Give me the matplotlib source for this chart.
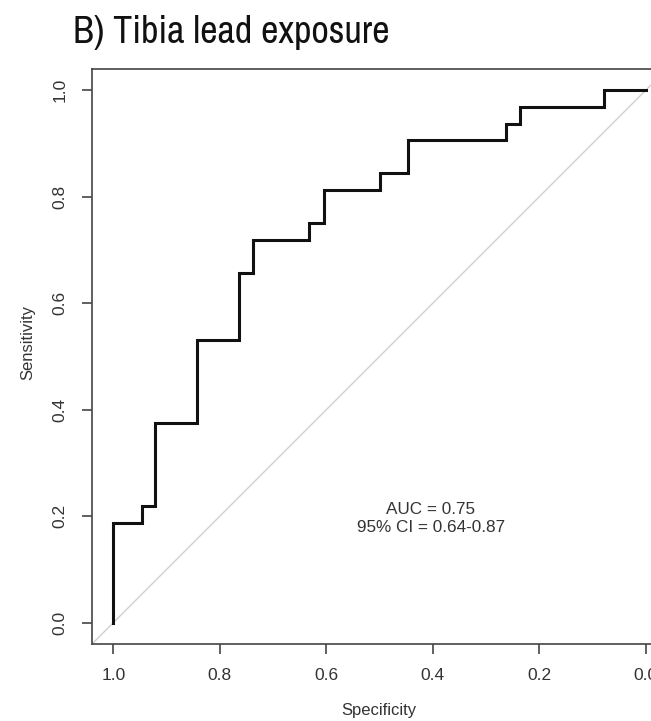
import matplotlib
matplotlib.use("Agg")
import matplotlib.pyplot as plt
from matplotlib import font_manager

# ROC curve corner points (specificity decreasing, sensitivity increasing)
specificity = [1.0, 1.0, 0.947, 0.921, 0.842, 0.763, 0.737, 0.632, 0.605,
               0.500, 0.447, 0.263, 0.237, 0.079, 0.0]
sensitivity = [0.0, 0.1875, 0.219, 0.375, 0.531, 0.656, 0.719, 0.750, 0.8125,
               0.844, 0.906, 0.9375, 0.969, 1.0, 1.0]
ticks = [1.0, 0.8, 0.6, 0.4, 0.2, 0.0]
tick_labels = ["1.0", "0.8", "0.6", "0.4", "0.2", "0.0"]
title = "B) Tibia lead exposure"
auc_text = "AUC = 0.75\n95% CI = 0.64-0.87"

body_font = "Liberation Sans"


def find_narrow():
    cands = []
    for f in font_manager.fontManager.ttflist:
        nm = f.name.lower()
        fn = f.fname.lower()
        st = str(f.stretch).lower()
        if f.style != "normal" or f.weight not in (400, "normal", "regular"):
            continue
        score = None
        if "narrow" in nm or "narrow" in fn:
            score = 0
        elif "condensed" in nm or "condensed" in fn or st in ("condensed", "semi-condensed"):
            score = 1 if "liberation" in fn or "roboto" in fn or "open" in fn else 2
        if score is not None:
            cands.append((score, f.fname))
    cands.sort()
    return cands[0][1] if cands else None


narrow = find_narrow()
if narrow:
    title_fp = font_manager.FontProperties(fname=narrow, size=27.5)
else:
    title_fp = font_manager.FontProperties(family=body_font, size=25)

W, H = 651, 721
fig = plt.figure(figsize=(W / 100, H / 100), dpi=100)
left, right, top, bottom = 92, 667, 69, 644
ax = fig.add_axes([left / W, 1 - bottom / H, (right - left) / W, (bottom - top) / H])

ax.axline((1, 0), (0, 1), color="#cfcfcf", lw=1.0, zorder=1)
ax.plot(specificity, sensitivity, drawstyle="steps-post", color="#111111", lw=2.2,
        solid_joinstyle="miter", zorder=3)

ax.set_xlim(1.04, -0.04)
ax.set_ylim(-0.04, 1.04)

for s in ax.spines.values():
    s.set_color("#444444")
    s.set_linewidth(1.2)

ax.set_xticks(ticks)
ax.set_xticklabels(tick_labels, fontfamily=body_font, fontsize=12.5, color="#333333")
ax.set_yticks(ticks)
ax.set_yticklabels(tick_labels, fontfamily=body_font, fontsize=12.5, color="#333333",
                   rotation=90, va="center")
ax.tick_params(axis="both", length=7.5, width=1.2, color="#444444", pad=10)

ax.set_xlabel("Specificity", fontfamily=body_font, fontsize=12, color="#333333")
ax.xaxis.set_label_coords(0.499, -0.1165)
ax.xaxis.label.set_va("center")
ax.set_ylabel("Sensitivity", fontfamily=body_font, fontsize=12, color="#333333")
ax.yaxis.set_label_coords(-0.111, 0.525)
ax.yaxis.label.set_va("center")

ax.text(0.404, 0.196, auc_text, ha="center", va="center", fontfamily=body_font,
        fontsize=12.3, color="#333333", linespacing=1.2)

fig.text(73 / W, 1 - 43 / H, title, fontproperties=title_fp,
         color="#111111", ha="left", va="baseline")

fig.savefig("out.png", dpi=100)
